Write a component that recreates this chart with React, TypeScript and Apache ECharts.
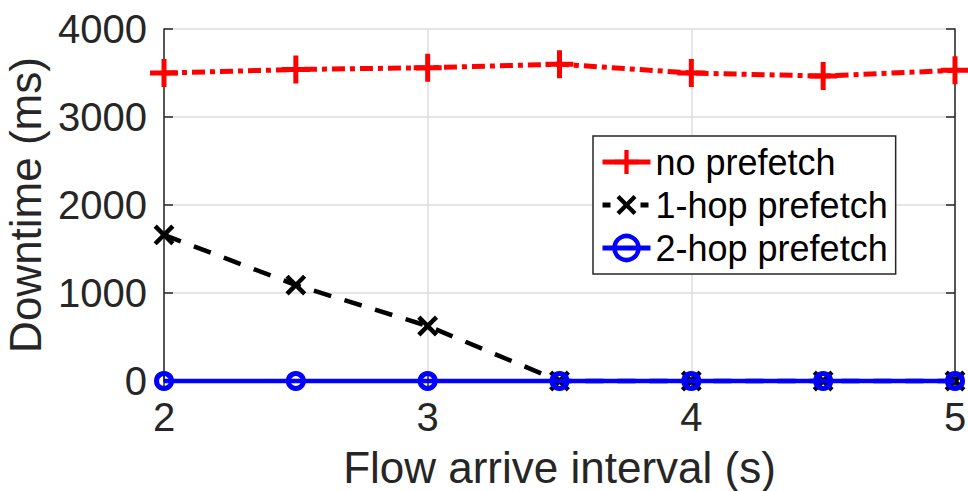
import React, { useEffect, useRef } from "react";
import * as echarts from "echarts";

const xValues = [2, 2.5, 3, 3.5, 4, 4.5, 5];
const noPrefetch = [3500, 3540, 3560, 3600, 3500, 3465, 3530];
const oneHopPrefetch = [1660, 1090, 625, 0, 0, 0, 0];
const twoHopPrefetch = [0, 0, 0, 0, 0, 0, 0];
const seriesNames = ["no prefetch", "1-hop prefetch", "2-hop prefetch"];
const xTitle = "Flow arrive interval (s)";
const yTitle = "Downtime (ms)";

const FONT = "'Liberation Sans', Arial, Helvetica, sans-serif";
const AXIS_COLOR = "#262626";
const PLUS = "path://M11.5 0H16.5V11.5H28V16.5H16.5V28H11.5V16.5H0V11.5H11.5Z";

const pairs = (ys: number[]) => xValues.map((x, i) => [x, ys[i]]);

export default function App() {
  const ref = useRef<HTMLDivElement>(null);
  useEffect(() => {
    if (!ref.current) return;
    const chart = echarts.init(ref.current, null, { renderer: "svg" });
    const axisCommon = {
      axisLine: { show: true, lineStyle: { color: AXIS_COLOR, width: 1.5 } },
      axisTick: { show: true, inside: true, length: 9, lineStyle: { color: AXIS_COLOR, width: 1.5 } },
    };
    const plain = (v: number) => String(v);
    chart.setOption({
      animation: false,
      backgroundColor: "#ffffff",
      grid: { left: 164, right: 13, top: 29, bottom: 110, containLabel: false, outerBoundsMode: "none" },
      xAxis: [
        {
          type: "value",
          position: "bottom",
          min: 2,
          max: 5,
          interval: 1,
          ...axisCommon,
          axisLabel: { fontSize: 40, color: AXIS_COLOR, fontFamily: FONT, margin: 16, formatter: plain },
          splitLine: { show: true, lineStyle: { color: "#dedede", width: 1.5 } },
          name: xTitle,
          nameLocation: "middle",
          nameGap: 64,
          nameTextStyle: { fontSize: 44, color: AXIS_COLOR, fontFamily: FONT },
        },
        {
          type: "value",
          position: "top",
          min: 2,
          max: 5,
          interval: 1,
          ...axisCommon,
          axisLabel: { show: false },
          splitLine: { show: false },
        },
      ],
      yAxis: [
        {
          type: "value",
          position: "left",
          min: 0,
          max: 4000,
          interval: 1000,
          ...axisCommon,
          axisLabel: { fontSize: 40, color: AXIS_COLOR, fontFamily: FONT, margin: 17, formatter: plain },
          splitLine: { show: true, lineStyle: { color: "#dedede", width: 1.5 } },
          name: yTitle,
          nameLocation: "middle",
          nameGap: 113,
          nameTextStyle: { fontSize: 44, color: AXIS_COLOR, fontFamily: FONT },
        },
        {
          type: "value",
          position: "right",
          min: 0,
          max: 4000,
          interval: 1000,
          ...axisCommon,
          axisLabel: { show: false },
          splitLine: { show: false },
        },
      ],
      legend: {
        left: 593,
        top: 136,
        orient: "vertical",
        data: [
          {
            name: seriesNames[0],
            itemStyle: { color: "#ff0000" },
            lineStyle: { color: "#ff0000", width: 5, type: "solid" },
          },
          {
            name: seriesNames[1],
            itemStyle: { color: "#000000" },
            lineStyle: { color: "#000000", width: 5, type: [8, 30] },
          },
          {
            name: seriesNames[2],
            itemStyle: { color: "rgba(0,0,0,0)", borderColor: "#0000ff", borderWidth: 4.5 },
            lineStyle: { color: "#0000ff", width: 5, type: "solid" },
          },
        ],
        backgroundColor: "#ffffff",
        borderColor: AXIS_COLOR,
        borderWidth: 1.5,
        borderRadius: 0,
        padding: [8, 8, 8, 7],
        itemGap: 7,
        itemWidth: 48,
        itemHeight: 30,
        textStyle: { fontSize: 36, color: "#000000", fontFamily: FONT },
        selectedMode: false,
      },
      series: [
        {
          name: seriesNames[0],
          type: "line",
          data: pairs(noPrefetch),
          clip: false,
          symbol: PLUS,
          symbolSize: 28,
          itemStyle: { color: "#ff0000" },
          lineStyle: { color: "#ff0000", width: 5, type: [13, 5, 5, 5] },
          z: 3,
        },
        {
          name: seriesNames[1],
          type: "line",
          data: pairs(oneHopPrefetch),
          clip: false,
          symbol: PLUS,
          symbolSize: 25,
          symbolRotate: 45,
          itemStyle: { color: "#000000" },
          lineStyle: { color: "#000000", width: 4.5, type: [18, 14] },
          z: 4,
        },
        {
          name: seriesNames[2],
          type: "line",
          data: pairs(twoHopPrefetch),
          clip: false,
          symbol: "circle",
          symbolSize: 15,
          itemStyle: { color: "rgba(0,0,0,0)", borderColor: "#0000ff", borderWidth: 5 },
          lineStyle: { color: "#0000ff", width: 4.5, type: "solid" },
          z: 5,
        },
      ],
    });
    return () => chart.dispose();
  }, []);
  return (
    <div
      ref={ref}
      style={{ position: "fixed", left: 0, top: 0, width: 968, height: 491, background: "#fff" }}
    />
  );
}
